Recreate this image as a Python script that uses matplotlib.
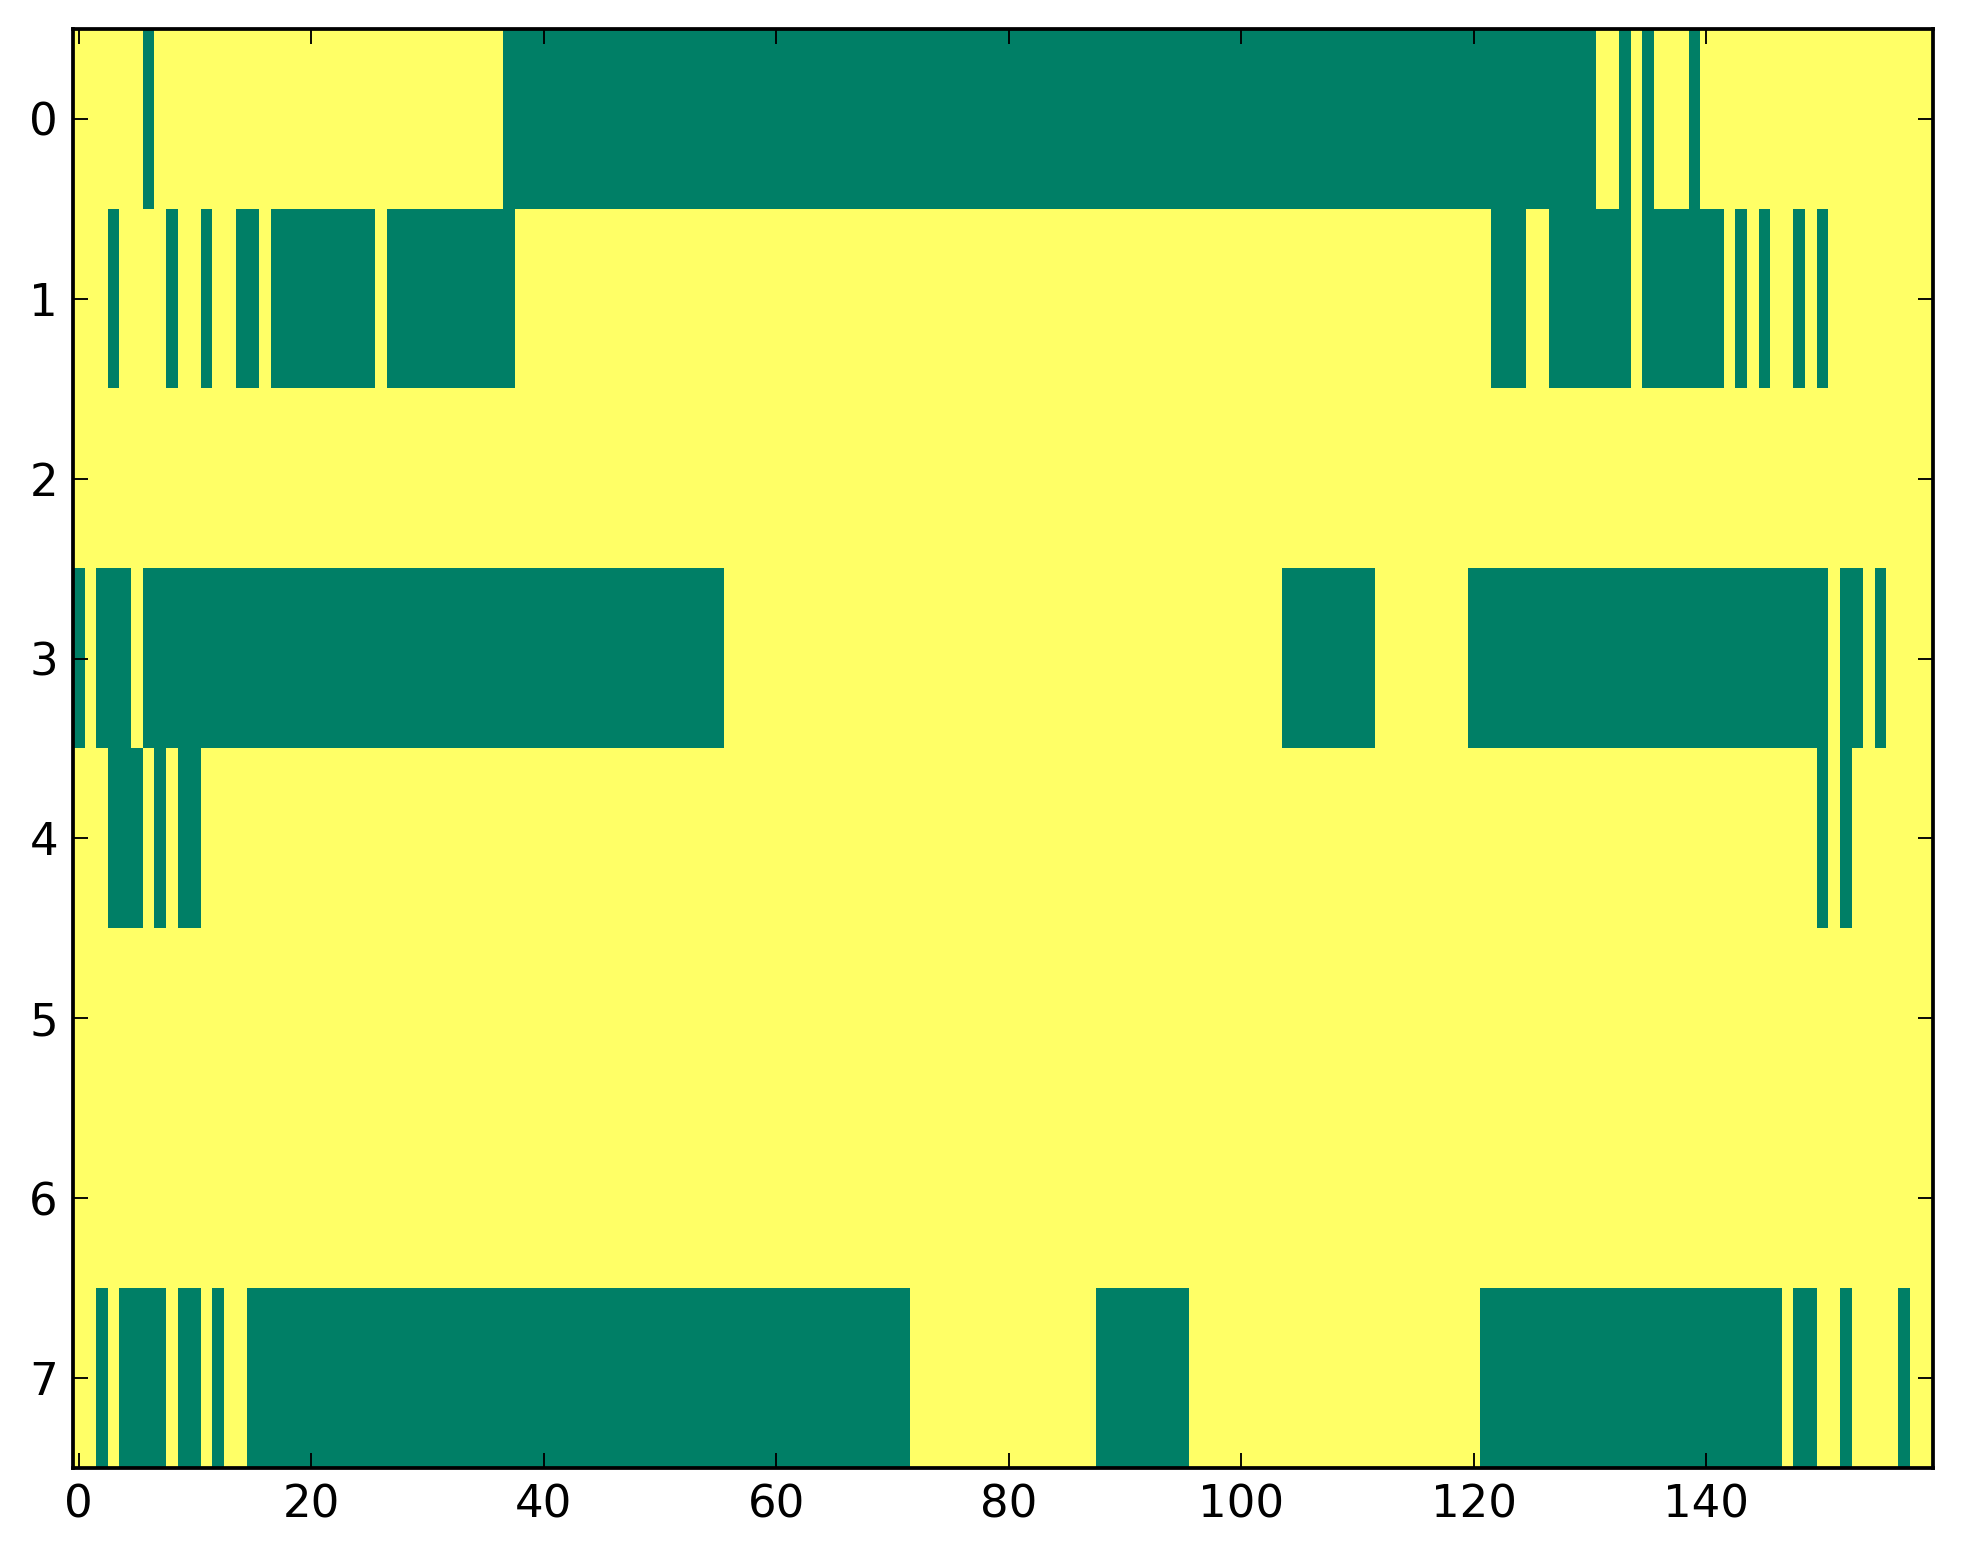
import numpy as np
import matplotlib
matplotlib.use("Agg")
import matplotlib.pyplot as plt

# Green cells per row, given as inclusive column runs (start, end)
n_rows = 8
n_cols = 160
row0_runs = [(6, 6), (37, 130), (133, 133), (135, 135), (139, 139)]
row1_runs = [(3, 3), (8, 8), (11, 11), (14, 15), (17, 25), (27, 37),
             (122, 124), (127, 133), (135, 141), (143, 143), (145, 145),
             (148, 148), (150, 150)]
row2_runs = []
row3_runs = [(0, 0), (2, 4), (6, 55), (104, 111), (120, 150), (152, 153),
             (155, 155)]
row4_runs = [(3, 5), (7, 7), (9, 10), (150, 150), (152, 152)]
row5_runs = []
row6_runs = []
row7_runs = [(2, 2), (4, 7), (9, 10), (12, 12), (15, 71), (88, 95),
             (121, 146), (148, 149), (152, 152), (157, 157)]

all_runs = [row0_runs, row1_runs, row2_runs, row3_runs,
            row4_runs, row5_runs, row6_runs, row7_runs]

x_ticks = [0, 20, 40, 60, 80, 100, 120, 140]
y_ticks = list(range(n_rows))

# build the 0/1 matrix from the runs
mat = np.zeros((n_rows, n_cols))
for r, runs in enumerate(all_runs):
    for a, b in runs:
        mat[r, a:b + 1] = 1

plt.rcParams['font.family'] = ['DejaVu Sans']
plt.rcParams['font.size'] = 12

dpi = 270
fig = plt.figure(figsize=(1963 / dpi, 1564 / dpi), dpi=dpi, facecolor='white')
ax = fig.add_axes([73 / 1963, 96 / 1564, 1860 / 1963, 1439 / 1564])

ax.imshow(mat, cmap='summer_r', aspect='auto', interpolation='nearest',
          vmin=0, vmax=1)

ax.set_xticks(x_ticks)
ax.set_yticks(y_ticks)
ax.tick_params(direction='in', top=True, right=True, length=4, width=0.5,
               labelsize=12, pad=4)
for sp in ax.spines.values():
    sp.set_linewidth(1.0)

fig.savefig("out.png", dpi=dpi, facecolor='white')
